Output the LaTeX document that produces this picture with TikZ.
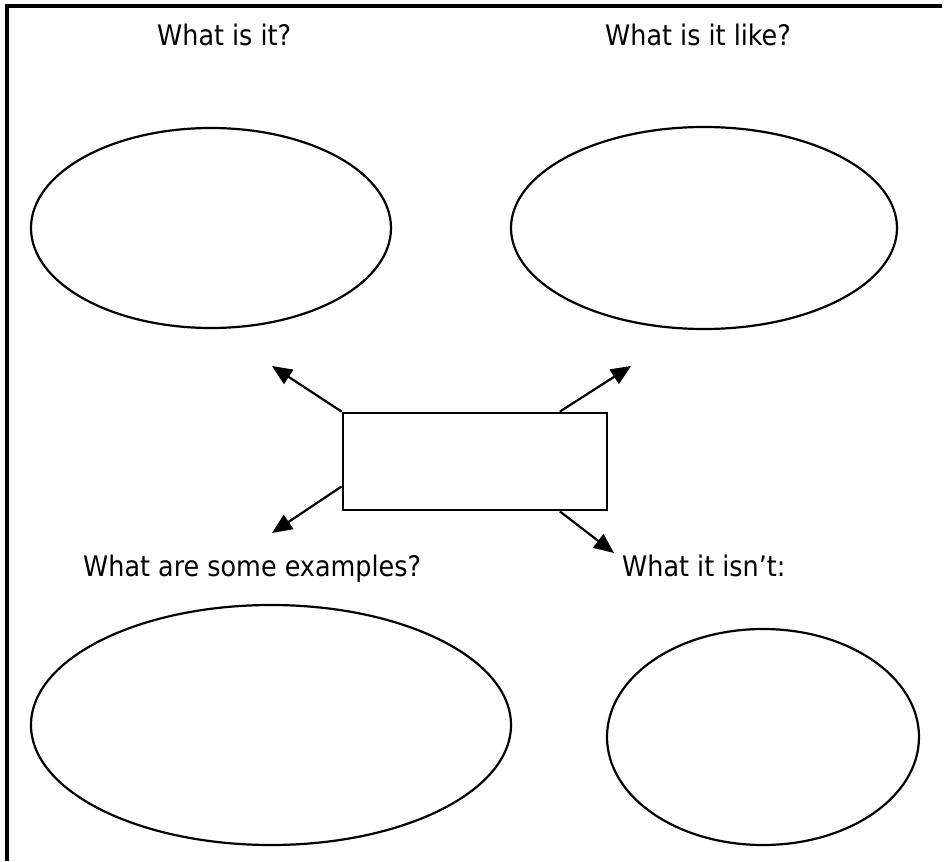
\documentclass[tikz,border=0pt]{standalone}
\usepackage{fontspec}
\setmainfont{DejaVu Sans Condensed}
\usetikzlibrary{shapes.geometric,arrows.meta,calc}

\tikzset{
  bubble/.style={draw, ellipse, line width=2.2pt, inner sep=0pt},
  centre/.style={draw, rectangle, line width=2.8pt, inner sep=0pt,
                 minimum width=264pt, minimum height=97pt},
  prompt/.style={anchor=base west, inner sep=0pt, font=\fontsize{28.3}{33}\selectfont},
  pointer/.style={line width=2.2pt, -{Triangle[length=20pt,width=17pt]}},
  frame/.style={line width=3.4pt}
}

\begin{document}
\begin{tikzpicture}[x=1pt, y=-1pt]
  \useasboundingbox (0,0) rectangle (949,861);

  % open frame: top and left sides only
  \draw[frame] (942,6) -- (7,6) -- (7,861);

  % headings
  \node[prompt] (q1) at (157,46) {What is it?};
  \node[prompt] (q2) at (605,46) {What is it like?};
  \node[prompt] (q3) at (83,576) {What are some examples?};
  \node[prompt] (q4) at (622,576) {What it isn’t:};

  % answer bubbles
  \node[bubble, minimum width=360pt, minimum height=200pt] (e1) at (211,228) {};
  \node[bubble, minimum width=386pt, minimum height=202pt] (e2) at (704,228) {};
  \node[bubble, minimum width=480pt, minimum height=240pt] (e3) at (271,725) {};
  \node[bubble, minimum width=312pt, minimum height=216pt] (e4) at (763,737) {};

  % central term box
  \node[centre] (box) at (475,461.5) {};

  % arrow start points on the box edge
  \coordinate (s1) at (box.north west);
  \coordinate (s2) at ($(box.north west)!0.818!(box.north east)$);
  \coordinate (s3) at ($(box.north west)!0.75!(box.south west)$);
  \coordinate (s4) at ($(box.south west)!0.818!(box.south east)$);

  % arrow tips
  \coordinate (t1) at (272,366);
  \coordinate (t2) at (631,366);
  \coordinate (t3) at (272,533);
  \coordinate (t4) at (614,553);

  \draw[pointer] (s1) -- (t1);
  \draw[pointer] (s2) -- (t2);
  \draw[pointer] (s3) -- (t3);
  \draw[pointer] (s4) -- (t4);
\end{tikzpicture}
\end{document}
